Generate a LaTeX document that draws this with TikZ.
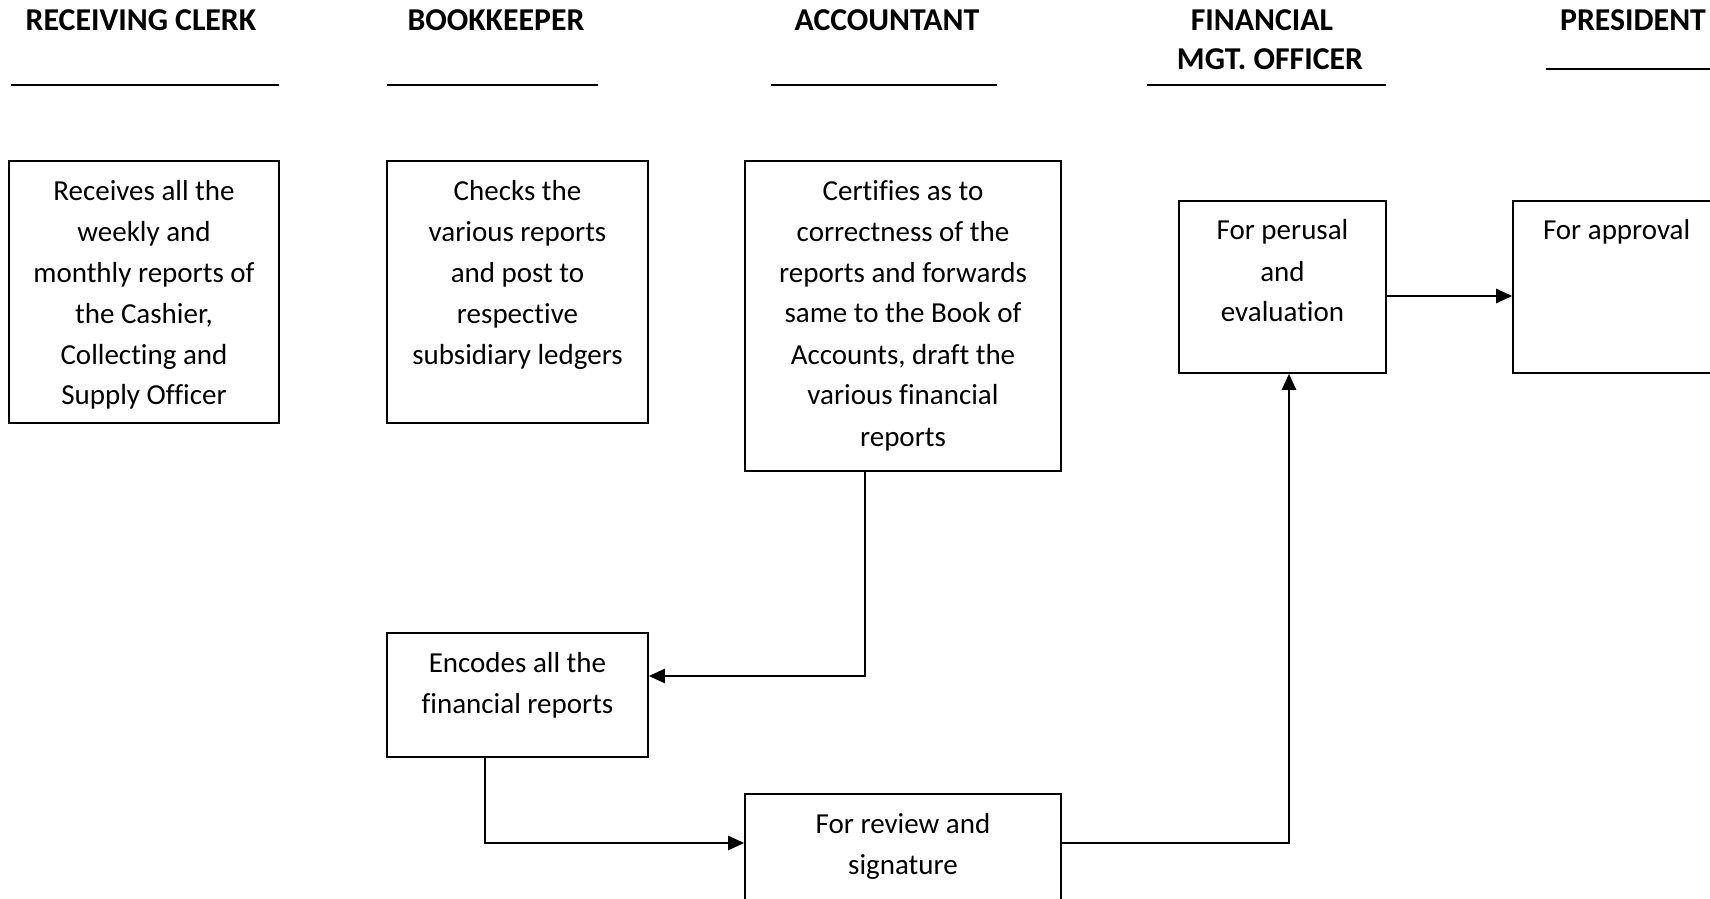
\documentclass[tikz,border=0pt]{standalone}
\usepackage{fontspec}
\setmainfont{Carlito}[Ligatures={NoCommon,NoContextual}]
\usetikzlibrary{arrows.meta}
% text block of a stage box: width, height, lines (top aligned)
\newcommand{\boxtext}[3]{\parbox[c][#2][t]{#1}{\centering\rule{0pt}{19.5pt}#3\par}}
\newcommand{\boxtextleft}[3]{\parbox[c][#2][t]{#1}{\raggedright\hspace*{15pt}\rule{0pt}{19.5pt}#3\par}}
\begin{document}
\begin{tikzpicture}[x=0.5pt,y=-0.5pt,
  stagebox/.style={draw, line width=0.8pt, inner sep=0pt, font=\fontsize{14.5}{20.5}\selectfont},
  header/.style={inner sep=0pt, font=\fontsize{15.9}{19.5}\selectfont\bfseries, anchor=base},
  hline/.style={line width=1pt},
  flow/.style={line width=1.2pt, -{Triangle[length=8pt,width=7pt]}}]
\useasboundingbox (0,0) rectangle (1710,899);

% column headings
\node[header] (hrc) at (141,31) {RECEIVING CLERK};
\node[header] (hbk) at (496,31) {BOOKKEEPER};
\node[header] (hac) at (887,31) {ACCOUNTANT};
\node[header, align=center] (hfmo) at (1270,70) {FINANCIAL\hspace*{8pt}\\MGT. OFFICER};
\node[header] (hpr) at (1633,31) {PRESIDENT};

\draw[hline] (11,85) -- (279,85);
\draw[hline] (387,85) -- (598,85);
\draw[hline] (771,85) -- (997,85);
\draw[hline] (1147,85) -- (1386,85);
\draw[hline] (1546,69) -- (1720,69);

% stage boxes
\node[stagebox] (rc) at (144,292) {\boxtext{135pt}{131pt}{Receives all the\\weekly and\\monthly reports of\\the Cashier,\\Collecting and\\Supply Officer}};
\node[stagebox] (bk) at (517.5,292) {\boxtext{130.5pt}{131pt}{Checks the\\various reports\\and post to\\respective\\subsidiary ledgers}};
\node[stagebox] (ac) at (903,316) {\boxtext{158pt}{155pt}{Certifies as to\\correctness of the\\reports and forwards\\same to the Book of\\Accounts, draft the\\various financial\\reports}};
\node[stagebox] (fmo) at (1282.5,287) {\boxtext{103.5pt}{86pt}{For perusal\\and\\evaluation}};
\node[stagebox] (pr) at (1633,287) {\boxtextleft{120pt}{86pt}{For approval}};
\node[stagebox] (enc) at (517.5,695) {\boxtext{130.5pt}{62pt}{Encodes all the\\financial reports}};
\node[stagebox] (rev) at (903,854) {\boxtext{158pt}{60pt}{For review and\\signature}};

% bend points of the connectors
\coordinate (b1) at (865,676);
\coordinate (b2) at (485,843);
\coordinate (b3) at (1289,843);
\coordinate (b4) at (1450,296);

\draw[flow] (ac.south -| b1) -- (b1) -- (enc.east |- b1);
\draw[flow] (enc.south -| b2) -- (b2) -- (rev.west |- b2);
\draw[flow] (rev.east |- b3) -- (b3) -- (fmo.south -| b3);
\draw[flow] (fmo.east |- b4) -- (pr.west |- b4);
\end{tikzpicture}
\end{document}
